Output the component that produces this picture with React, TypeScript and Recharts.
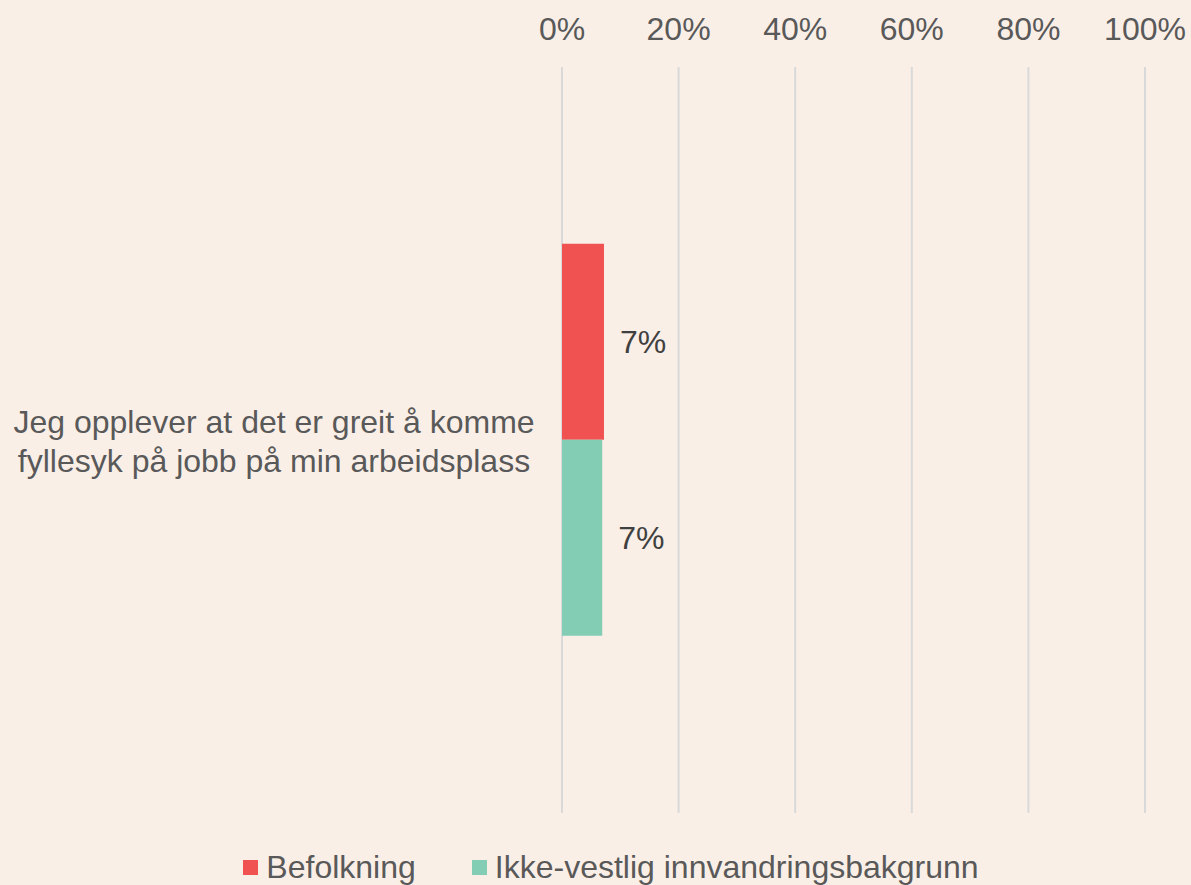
import React from "react";
import { Bar, BarChart, CartesianGrid, LabelList, Legend, XAxis, YAxis } from "recharts";

const categories = ["Jeg opplever at det er greit å komme fyllesyk på jobb på min arbeidsplass"];
const categoryLines = [["Jeg opplever at det er greit å komme", "fyllesyk på jobb på min arbeidsplass"]];
const befolkning = [7.2];
const ikkeVestlig = [6.9];
const xTicks = [0, 20, 40, 60, 80, 100];

const seriesNames = ["Befolkning", "Ikke-vestlig innvandringsbakgrunn"];
const seriesColors = ["#F05252", "#82CDB4"];

const data = categories.map((c, i) => ({
  category: c,
  befolkning: befolkning[i],
  ikkeVestlig: ikkeVestlig[i],
}));

const FONT = "'Liberation Sans', Arial, sans-serif";
const BG = "#F9EFE7";
const FS = 32;

const CategoryTick = (props: any) => {
  const { y, index } = props;
  const lines = categoryLines[index] || [props.payload.value];
  return (
    <text x={274} y={y - 7} textAnchor="middle" fill="#595959" fontSize={FS} fontFamily={FONT}>
      {lines.map((l: string, i: number) => (
        <tspan key={i} x={274} dy={i === 0 ? 0 : 39}>
          {l}
        </tspan>
      ))}
    </text>
  );
};

const LegendContent = () => (
  <div
    style={{
      display: "flex",
      justifyContent: "center",
      paddingLeft: 31,
      fontFamily: FONT,
      fontSize: FS,
      lineHeight: "33px",
      color: "#595959",
      gap: 56,
    }}
  >
    {seriesNames.map((n, i) => (
      <div key={n} style={{ display: "flex", alignItems: "center" }}>
        <span style={{ width: 15, height: 15, background: seriesColors[i], marginRight: 8, display: "inline-block" }} />
        <span>{n}</span>
      </div>
    ))}
  </div>
);

export default function App() {
  return (
    <div style={{ position: "absolute", left: 0, top: 0, width: 1191, height: 885, background: BG }}>
      <BarChart
        width={1191}
        height={885}
        data={data}
        layout="vertical"
        margin={{ top: 0, right: 46, bottom: 39, left: 0 }}
        barCategoryGap="23.7%"
        barGap={0}
      >
        <CartesianGrid horizontal={false} stroke="#D9D9D9" strokeWidth={2} />
        <XAxis
          type="number"
          orientation="top"
          domain={[0, 100]}
          ticks={xTicks}
          tickFormatter={(v) => `${v}%`}
          axisLine={false}
          tickLine={false}
          tickSize={0}
          tickMargin={27}
          height={67}
          interval={0}
          tick={{ fill: "#595959", fontSize: FS, fontFamily: FONT }}
        />
        <YAxis
          type="category"
          dataKey="category"
          width={562}
          axisLine={false}
          tickLine={false}
          tick={<CategoryTick />}
        />
        <Legend
          verticalAlign="bottom"
          content={<LegendContent />}
          wrapperStyle={{ bottom: 1, left: 0, width: 1191 }}
        />
        <Bar dataKey="befolkning" name={seriesNames[0]} fill={seriesColors[0]} isAnimationActive={false}>
          <LabelList
            dataKey="befolkning"
            position="right"
            offset={16}
            formatter={(v: any) => `${Math.round(v)}%`}
            style={{ fill: "#404040", fontSize: FS, fontFamily: FONT }}
          />
        </Bar>
        <Bar dataKey="ikkeVestlig" name={seriesNames[1]} fill={seriesColors[1]} isAnimationActive={false}>
          <LabelList
            dataKey="ikkeVestlig"
            position="right"
            offset={16}
            formatter={(v: any) => `${Math.round(v)}%`}
            style={{ fill: "#404040", fontSize: FS, fontFamily: FONT }}
          />
        </Bar>
      </BarChart>
    </div>
  );
}
